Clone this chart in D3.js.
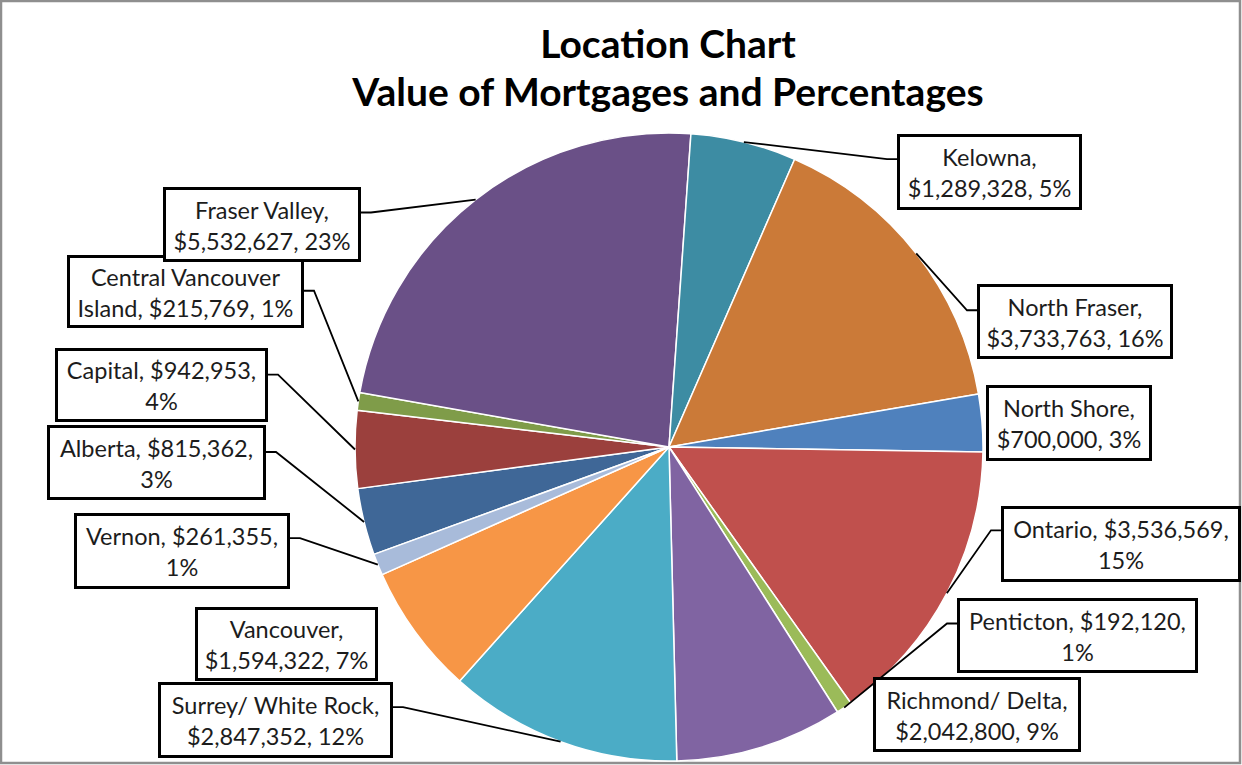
<!DOCTYPE html>
<html>
<head>
<meta charset="utf-8">
<script src="https://cdn.jsdelivr.net/npm/d3@7"></script>
<style>
  html, body { margin: 0; padding: 0; background: #ffffff; }
  svg { display: block; }
</style>
</head>
<body>
<svg id="chart" width="1242" height="765"></svg>
<script>
// Mortgage totals by location
const regions = [
  "Alberta", "Capital", "Central Vancouver Island", "Fraser Valley", "Kelowna",
  "North Fraser", "North Shore", "Ontario", "Penticton", "Richmond/ Delta",
  "Surrey/ White Rock", "Vancouver", "Vernon"
];
const mortgageValues = [
  815362, 942953, 215769, 5532627, 1289328,
  3733763, 700000, 3536569, 192120, 2042800,
  2847352, 1594322, 261355
];
const sliceColors = [
  "#3f6797", "#9b403d", "#7f9c49", "#6a5087", "#3d8ca3",
  "#cb7a38", "#4f81bd", "#c0504d", "#9bbb59", "#8064a2",
  "#4bacc6", "#f79646", "#a8bbda"
];
const titleLines = ["Location Chart", "Value of Mortgages and Percentages"];

// Placement of each data-label box: [left, top, right, bottom], words on line one,
// whether a leader line is drawn, and where along the box edge it attaches.
const labelLayout = {
  "Alberta":                  { box: [47, 425, 266, 500],  words: 2, leader: true,  attach: 0.36 },
  "Capital":                  { box: [55, 348, 268, 422],  words: 2, leader: true,  attach: 0.36 },
  "Central Vancouver Island": { box: [67, 255, 304, 328],  words: 2, leader: true,  attach: 0.49 },
  "Fraser Valley":            { box: [163, 187, 361, 262], words: 2, leader: true,  attach: 0.34 },
  "Kelowna":                  { box: [897, 134, 1082, 210], words: 1, leader: true, attach: 0.33 },
  "North Fraser":             { box: [977, 284, 1173, 359], words: 2, leader: true, attach: 0.35 },
  "North Shore":              { box: [986, 385, 1152, 461], words: 2, leader: false },
  "Ontario":                  { box: [1001, 506, 1241, 582], words: 2, leader: true, attach: 0.32 },
  "Penticton":                { box: [957, 598, 1198, 673], words: 2, leader: true, attach: 0.34 },
  "Richmond/ Delta":          { box: [873, 677, 1081, 752], words: 2, leader: false },
  "Surrey/ White Rock":       { box: [158, 682, 393, 758], words: 3, leader: true,  attach: 0.33 },
  "Vancouver":                { box: [195, 607, 378, 681], words: 1, leader: false },
  "Vernon":                   { box: [74, 513, 290, 589],  words: 2, leader: true,  attach: 0.33 }
};

const W = 1242, H = 765;
const cx = 669, cy = 447, radius = 314;
const firstSliceAngle = 250; // degrees clockwise from 12 o'clock

const svg = d3.select("#chart");

// chart area frame
svg.append("rect")
  .attr("x", 1).attr("y", 1)
  .attr("width", 1239).attr("height", 762)
  .attr("fill", "#ffffff")
  .attr("stroke", "#8f8f8f")
  .attr("stroke-width", 2.5);

const data = regions.map((name, i) => ({ name, value: mortgageValues[i], color: sliceColors[i] }));
const total = d3.sum(data, d => d.value);

const a0 = firstSliceAngle * Math.PI / 180;
const pie = d3.pie()
  .sort(null)
  .value(d => d.value)
  .startAngle(a0)
  .endAngle(a0 + 2 * Math.PI);

const arcs = pie(data);
const arc = d3.arc().innerRadius(0).outerRadius(radius);

const g = svg.append("g").attr("transform", `translate(${cx},${cy})`);

g.selectAll("path.slice")
  .data(arcs)
  .join("path")
  .attr("class", "slice")
  .attr("d", arc)
  .attr("fill", d => d.data.color)
  .attr("stroke", "#ffffff")
  .attr("stroke-width", 1.5)
  .attr("stroke-linejoin", "round");

// Leader lines: from the arc edge at the slice's mid-angle to the label box
const leaderGroup = svg.append("g");
arcs.forEach(d => {
  const L = labelLayout[d.data.name];
  if (!L || !L.leader) return;
  const mid = (d.startAngle + d.endAngle) / 2;
  const px = cx + radius * Math.sin(mid);
  const py = cy - radius * Math.cos(mid);
  const [x0, y0, x1, y1] = L.box;
  const ay = y0 + (y1 - y0) * L.attach;
  const onLeft = px < x0; // box sits to the right of the point
  const ex = onLeft ? x0 : x1;
  const kx = onLeft ? ex - 10 : ex + 10;
  leaderGroup.append("path")
    .attr("d", d3.line()([[px, py], [kx, ay], [ex, ay]]))
    .attr("fill", "none")
    .attr("stroke", "#000000")
    .attr("stroke-width", 1.8);
});

// Data labels: "Name, $value, pct%"
const fmtMoney = d3.format("$,");
const fmtPct = d3.format(".0%");
const labelGroup = svg.append("g");
arcs.forEach(d => {
  const L = labelLayout[d.data.name];
  const [x0, y0, x1, y1] = L.box;
  const text = `${d.data.name}, ${fmtMoney(d.data.value)}, ${fmtPct(d.data.value / total)}`;
  const words = text.split(" ");
  const lines = [words.slice(0, L.words).join(" "), words.slice(L.words).join(" ")];
  const bg = labelGroup.append("g");
  bg.append("rect")
    .attr("x", x0 + 1.5).attr("y", y0 + 1.5)
    .attr("width", x1 - x0 - 3).attr("height", y1 - y0 - 3)
    .attr("fill", "#ffffff")
    .attr("stroke", "#000000")
    .attr("stroke-width", 3);
  const midY = (y0 + y1) / 2;
  const t = bg.append("text")
    .attr("x", (x0 + x1) / 2)
    .attr("text-anchor", "middle")
    .attr("font-family", "Lato, 'Open Sans', sans-serif")
    .attr("font-size", 23.5)
    .attr("fill", "#1c1c1c");
  t.append("tspan").attr("x", (x0 + x1) / 2).attr("y", midY - 6).text(lines[0]);
  t.append("tspan").attr("x", (x0 + x1) / 2).attr("y", midY + 25).text(lines[1]);
});

// Title
svg.append("g")
  .selectAll("text")
  .data(titleLines)
  .join("text")
  .attr("x", 668)
  .attr("y", (d, i) => 58 + i * 48)
  .attr("text-anchor", "middle")
  .attr("font-family", "Lato, 'Open Sans', sans-serif")
  .attr("font-weight", "bold")
  .attr("font-size", 39)
  .attr("fill", "#000000")
  .text(d => d);
</script>
</body>
</html>
